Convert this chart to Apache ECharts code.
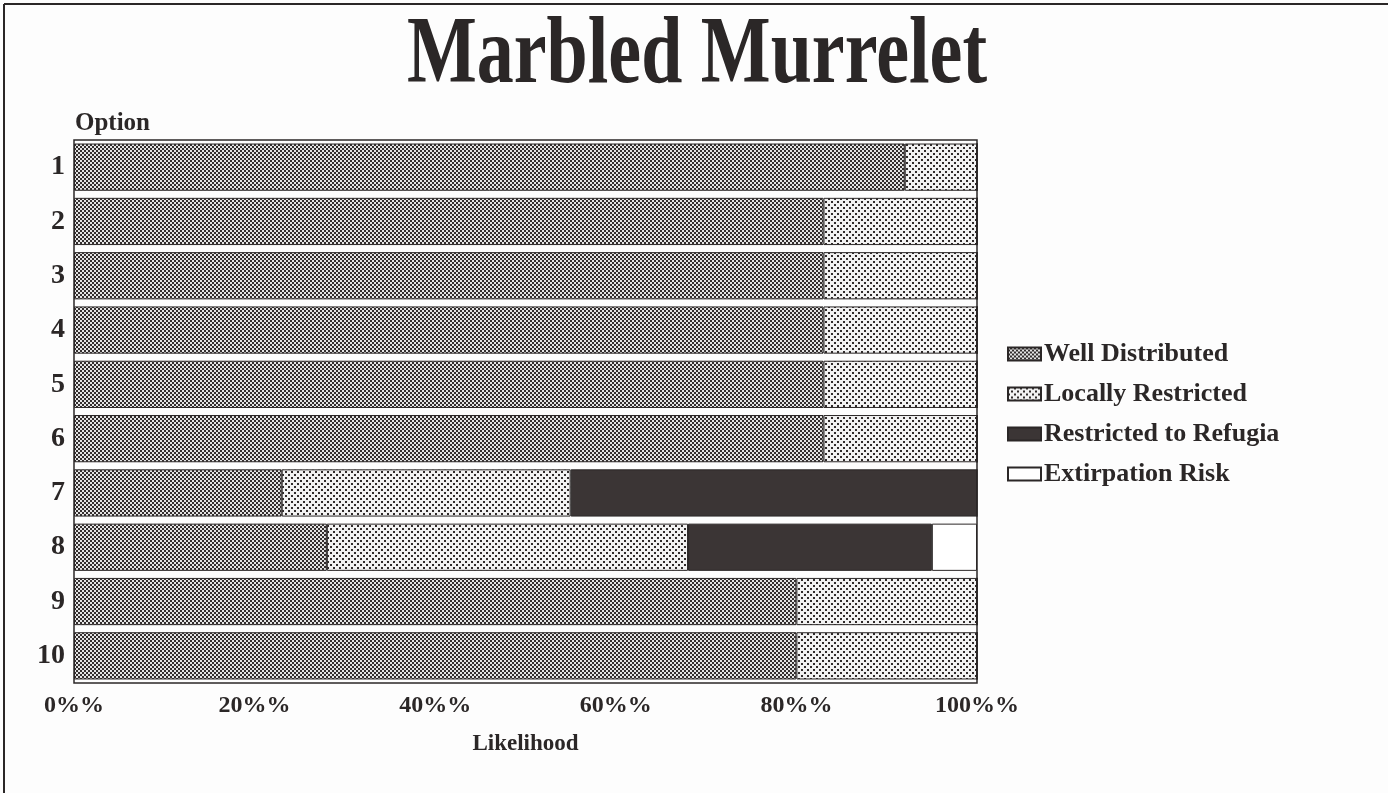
<!DOCTYPE html>
<html>
<head>
<meta charset="utf-8">
<title>Marbled Murrelet</title>
<script src="https://cdn.jsdelivr.net/npm/echarts@6/dist/echarts.min.js"></script>
<style>
  html, body { margin: 0; padding: 0; background: #fdfdfd; }
  #chart { width: 1388px; height: 793px; }
</style>
</head>
<body>
<div id="chart"></div>
<script>
// options 1..10 (top to bottom), likelihood in %
const options = ['1', '2', '3', '4', '5', '6', '7', '8', '9', '10'];
const wellDistributed = [92, 83, 83, 83, 83, 83, 23, 28, 80, 80];
const locallyRestricted = [8, 17, 17, 17, 17, 17, 32, 40, 20, 20];
const restrictedToRefugia = [0, 0, 0, 0, 0, 0, 45, 27, 0, 0];
const extirpationRisk = [0, 0, 0, 0, 0, 0, 0, 5, 0, 0];
const xTicks = [0, 20, 40, 60, 80, 100];

const ink = '#2b2727';
const serif = '"Liberation Serif", "DejaVu Serif", serif';

// little dither tiles, like the halftone fills of the print
function tile(w, h, bg, dots) {
  const c = document.createElement('canvas');
  c.width = w;
  c.height = h;
  const ctx = c.getContext('2d');
  ctx.fillStyle = bg;
  ctx.fillRect(0, 0, w, h);
  dots.forEach(([x, y, dw, dh, col]) => {
    ctx.fillStyle = col;
    ctx.fillRect(x, y, dw, dh);
  });
  return { image: c, repeat: 'repeat' };
}
const wellFill = tile(4, 4, '#332e2e', [[0, 0, 2, 2, '#e4e4e4'], [2, 2, 2, 2, '#e4e4e4']]);
const localFill = tile(6, 6, '#f2f2f2', [[0, 0, 2, 2, '#2f2a2a'], [3, 3, 2, 2, '#2f2a2a']]);

const chart = echarts.init(document.getElementById('chart'));

const barBase = {
  type: 'bar',
  stack: 'all',
  barCategoryGap: '13%',
  silent: true,
};

chart.setOption({
  animation: false,
  backgroundColor: '#fdfdfd',
  textStyle: { fontFamily: serif, color: ink },
  title: {
    text: 'Option',
    left: 70,
    top: 106,
    textStyle: { fontFamily: serif, fontSize: 25, fontWeight: 'bold', color: ink },
  },
  legend: {
    orient: 'vertical',
    left: 1002,
    top: 336,
    icon: 'rect',
    itemWidth: 33,
    itemHeight: 13,
    itemGap: 14,
    selectedMode: false,
    textStyle: { fontFamily: serif, fontSize: 26, fontWeight: 'bold', color: ink, padding: [0, 0, 0, -2] },
    data: ['Well Distributed', 'Locally Restricted', 'Restricted to Refugia', 'Extirpation Risk'],
  },
  grid: {
    left: 74,
    right: 411,
    top: 140,
    bottom: 110,
    show: true,
    borderColor: ink,
    borderWidth: 1.5,
  },
  xAxis: {
    type: 'value',
    min: xTicks[0],
    max: xTicks[xTicks.length - 1],
    interval: 20,
    name: 'Likelihood',
    nameLocation: 'middle',
    nameGap: 50,
    nameTextStyle: { fontFamily: serif, fontSize: 23, fontWeight: 'bold', color: ink },
    axisLine: { show: false },
    axisTick: { show: false },
    splitLine: { show: false },
    axisLabel: {
      margin: 11,
      fontFamily: serif,
      fontSize: 24,
      fontWeight: 'bold',
      color: ink,
      formatter: '{value}%%',
    },
  },
  yAxis: {
    type: 'category',
    inverse: true,
    data: options,
    axisLine: { show: false },
    axisTick: { show: false },
    axisLabel: {
      margin: 9,
      fontFamily: serif,
      fontSize: 28,
      fontWeight: 'bold',
      color: ink,
    },
  },
  series: [
    {
      ...barBase,
      name: 'Well Distributed',
      data: wellDistributed,
      itemStyle: { color: wellFill, borderColor: ink, borderWidth: 1 },
    },
    {
      ...barBase,
      name: 'Locally Restricted',
      data: locallyRestricted,
      itemStyle: { color: localFill, borderColor: ink, borderWidth: 1 },
    },
    {
      ...barBase,
      name: 'Restricted to Refugia',
      data: restrictedToRefugia,
      itemStyle: { color: '#3b3535', borderColor: ink, borderWidth: 1 },
    },
    {
      ...barBase,
      name: 'Extirpation Risk',
      data: extirpationRisk,
      itemStyle: { color: '#ffffff', borderColor: ink, borderWidth: 1 },
    },
  ],
  graphic: [
    // big condensed heading
    {
      type: 'text',
      x: 697,
      y: 9,
      scaleY: 1.3,
      style: {
        text: 'Marbled Murrelet',
        fontFamily: serif,
        fontSize: 74,
        fontWeight: 'bold',
        fill: ink,
        align: 'center',
        verticalAlign: 'top',
      },
    },
    // page frame of the scan, top and left edges
    { type: 'line', shape: { x1: 4, y1: 4, x2: 1388, y2: 4 }, style: { stroke: ink, lineWidth: 2 } },
    { type: 'line', shape: { x1: 4, y1: 4, x2: 4, y2: 793 }, style: { stroke: ink, lineWidth: 2 } },
  ],
});
</script>
</body>
</html>
